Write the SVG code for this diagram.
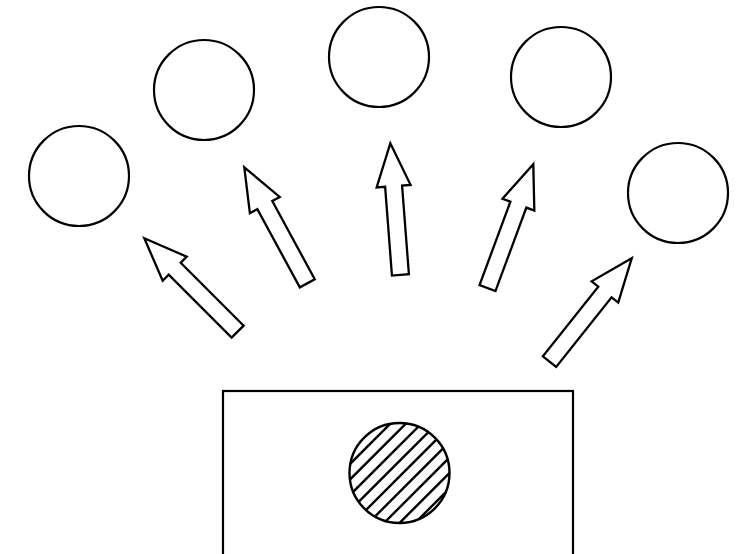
<svg xmlns="http://www.w3.org/2000/svg" width="742" height="554" viewBox="0 0 742 554">
<style>
.o{fill:#fff;stroke:#000;stroke-width:2.2}
.a{fill:#fff;stroke:#000;stroke-width:2.3;stroke-linejoin:miter}
.h{stroke:#000;stroke-width:2.4}
</style>
<defs>
<path id="arr" d="M0,0 L17,43 L8.5,43 L8.5,132 L-8.5,132 L-8.5,43 L-17,43 Z"/>
<clipPath id="cc"><circle cx="399.5" cy="473" r="50"/></clipPath>
</defs>
<rect width="742" height="554" fill="#fff"/>
<g id="source">
<rect class="o" x="223" y="391" width="350" height="180"/>
<circle cx="399.5" cy="473" r="50" fill="#fff"/>
<g clip-path="url(#cc)">
<line class="h" x1="340" y1="474" x2="460" y2="354"/>
<line class="h" x1="340" y1="489.5" x2="460" y2="369.5"/>
<line class="h" x1="340" y1="505" x2="460" y2="385"/>
<line class="h" x1="340" y1="520.5" x2="460" y2="400.5"/>
<line class="h" x1="340" y1="536" x2="460" y2="416"/>
<line class="h" x1="340" y1="551.5" x2="460" y2="431.5"/>
<line class="h" x1="340" y1="567" x2="460" y2="447"/>
<line class="h" x1="340" y1="582.5" x2="460" y2="462.5"/>
<line class="h" x1="340" y1="598" x2="460" y2="478"/>
</g>
<circle cx="399.5" cy="473" r="50" fill="none" stroke="#000" stroke-width="2.4"/>
</g>
<g id="c1"><circle class="o" cx="79" cy="176" r="50"/></g>
<g id="c2"><circle class="o" cx="204" cy="90" r="50"/></g>
<g id="c3"><circle class="o" cx="379" cy="57" r="50"/></g>
<g id="c4"><circle class="o" cx="561" cy="77" r="50"/></g>
<g id="c5"><circle class="o" cx="678" cy="193" r="50"/></g>
<g id="connectors">
<use href="#arr" class="a" transform="translate(144.3,238.3) rotate(-45)"/>
<use href="#arr" class="a" transform="translate(244.3,167.3) rotate(-28.5)"/>
<use href="#arr" class="a" transform="translate(390.3,143.3) rotate(-4.4)"/>
<use href="#arr" class="a" transform="translate(533.3,164.3) rotate(20.3)"/>
<use href="#arr" class="a" transform="translate(631.7,258.3) rotate(38.5)"/>
</g>
</svg>
